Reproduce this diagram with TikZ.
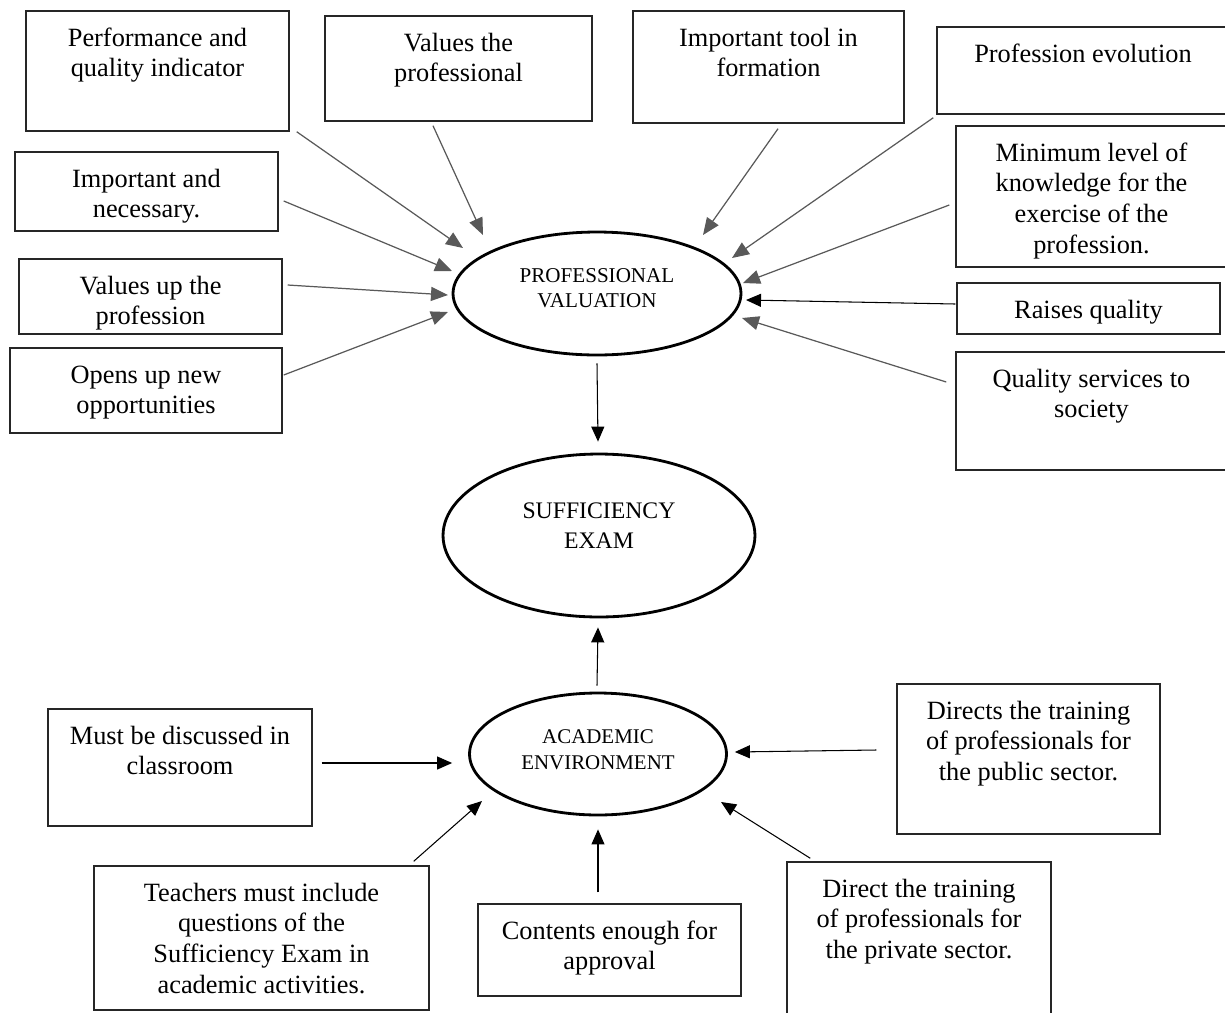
\documentclass[tikz,border=0pt]{standalone}
\usepackage{fontspec}
\setmainfont{Liberation Serif}
\usetikzlibrary{arrows.meta,calc,shapes.geometric}

% text box with the text at its top
\newcommand{\topbox}[3]{\parbox[c][#2][t]{#1}{\centering\vspace*{7.6pt}\strut #3}}
% ellipse text, raised a little above the centre
\newcommand{\ovaltext}[2]{\parbox{3.4cm}{\centering #2\par\vspace*{#1}}}

\tikzset{
  infobox/.style={draw=black!85, line width=0.85pt, inner sep=0pt, font=\fontsize{15}{17.6}\selectfont},
  oval/.style={draw, ellipse, line width=1.6pt, inner sep=0pt},
  feed/.style={draw=black!65, line width=0.7pt, -{Triangle[length=0.34cm,width=0.28cm]}},
  link/.style={draw=black, line width=0.6pt, -{Triangle[length=0.3cm,width=0.26cm]}}
}

\begin{document}
\begin{tikzpicture}[x=0.02cm,y=-0.02cm]
			\useasboundingbox (0,0) rectangle (1225,1012);

			% Ellipses
			\node[oval, minimum width=5.76cm, minimum height=2.46cm, font=\fontsize{12}{14.2}\selectfont] (pv) at (597,293.5) {\ovaltext{0.2cm}{PROFESSIONAL\\VALUATION}};
			\node[oval, minimum width=6.24cm, minimum height=3.26cm, font=\fontsize{13.5}{17}\selectfont] (se) at (599,535.5) {\ovaltext{0.4cm}{SUFFICIENCY\\EXAM}};
			\node[oval, minimum width=5.14cm, minimum height=2.44cm, font=\fontsize{11.9}{14.8}\selectfont] (ae) at (598,754) {\ovaltext{0.16cm}{ACADEMIC\\ENVIRONMENT}};

			% Boxes round the professional valuation
			\node[infobox] (perf) at (157.5,71) {\topbox{5.26cm}{2.4cm}{Performance and\\quality indicator}};
			\node[infobox] (valprof) at (458.5,68.5) {\topbox{5.34cm}{2.1cm}{Values the\\professional}};
			\node[infobox] (tool) at (768.5,67) {\topbox{5.42cm}{2.24cm}{Important tool in\\formation}};
			\node[infobox] (evol) at (1083,70.5) {\topbox{5.84cm}{1.74cm}{Profession evolution}};
			\node[infobox] (minlev) at (1091.5,196.5) {\topbox{5.42cm}{2.82cm}{Minimum level of\\knowledge for the\\exercise of the\\profession.}};
			\node[infobox] (raises) at (1088.5,308.5) {\topbox{5.26cm}{1.02cm}{Raises quality}};
			\node[infobox] (qserv) at (1091.5,411) {\topbox{5.42cm}{2.36cm}{Quality services to\\society}};
			\node[infobox] (impnec) at (146.5,191.5) {\topbox{5.26cm}{1.58cm}{Important and\\necessary.}};
			\node[infobox] (valup) at (150.5,296.5) {\topbox{5.26cm}{1.5cm}{Values up the\\profession}};
			\node[infobox] (opens) at (146,390.5) {\topbox{5.44cm}{1.7cm}{Opens up new\\opportunities}};

			% Boxes round the academic environment
			\node[infobox] (must) at (180,767.5) {\topbox{5.28cm}{2.34cm}{Must be discussed in\\classroom}};
			\node[infobox] (teach) at (261.5,938) {\topbox{6.7cm}{2.88cm}{Teachers must include\\questions of the\\Sufficiency Exam in\\academic activities.}};
			\node[infobox] (contents) at (609.5,950) {\topbox{5.26cm}{1.84cm}{Contents enough for\\approval}};
			\node[infobox] (public) at (1028.5,759) {\topbox{5.26cm}{3.0cm}{Directs the training\\of professionals for\\the public sector.}};
			\node[infobox] (private) at (919,946) {\topbox{5.28cm}{3.36cm}{Direct the training\\of professionals for\\the private sector.}};

			% Arrows into the professional valuation
			\draw[feed] ($(perf.south east)+(7,0)$) -- ($(pv)+(-134,-45.5)$);
			\draw[feed] ($(impnec.east)+(5,9.5)$) -- ($(pv)+(-145,-22.5)$);
			\draw[feed] ($(valup.east)+(5,-11.5)$) -- ($(pv)+(-149,1.5)$);
			\draw[feed] ($(opens.east)+(1,-15.5)$) -- ($(pv)+(-149,18.5)$);
			\draw[feed] ($(valprof.south)+(-25.5,4)$) -- ($(pv)+(-114,-58.5)$);
			\draw[feed] ($(tool.south)+(9.5,5)$) -- ($(pv)+(106,-58.5)$);
			\draw[feed] ($(evol.south west)+(-3,3)$) -- ($(pv)+(135,-35.5)$);
			\draw[feed] ($(minlev.west)+(-6,8.5)$) -- ($(pv)+(146,-10.5)$);
			\draw[link] ($(raises.west)+(-1,-4.5)$) -- ($(pv)+(149,6.5)$);
			\draw[feed] ($(qserv.west)+(-9,-29)$) -- ($(pv)+(145,24.5)$);

			% Middle column
			\draw[link] ($(pv.south)+(0,7)$) -- ($(se.north)+(-1,-11)$);
			\draw[link] ($(ae.north)+(-1,-6)$) -- ($(se.south)+(-1,9)$);

			% Arrows into the academic environment
			\draw[link] ($(must.east)+(9,-4.5)$) -- ($(ae.west)+(-16,9)$);
			\draw[link] ($(teach.north east)+(-16,-4)$) -- ($(ae)+(-116,47)$);
			\draw[link] ($(contents.north)+(-11.5,-11)$) -- ($(ae.south)+(0,13)$);
			\draw[link] ($(public.west)+(-20,-9)$) -- ($(ae.east)+(7,-2)$);
			\draw[link] ($(private.north west)+(24,-3)$) -- ($(ae)+(123,48)$);
		\end{tikzpicture}
\end{document}
